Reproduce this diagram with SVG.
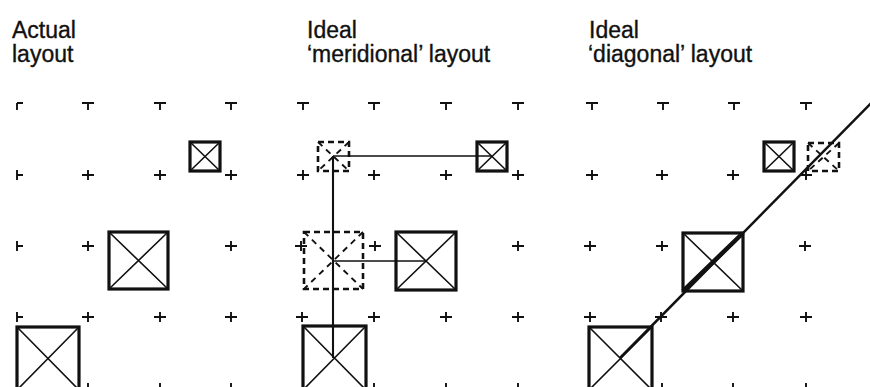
<svg xmlns="http://www.w3.org/2000/svg" xmlns:xlink="http://www.w3.org/1999/xlink" width="870" height="387" viewBox="0 0 870 387">
<style>
.t{font-family:"Liberation Sans",Arial,sans-serif;font-size:23px;fill:#111;stroke:#111;stroke-width:0.35}
.m{fill:none;stroke:#111;stroke-width:1.9}
.box{fill:#fff;stroke:#111;stroke-width:3.2}
.dia{stroke:#111;stroke-width:1.6;fill:none}
.dbox{fill:none;stroke:#111;stroke-width:2.6;stroke-dasharray:6 4}
.ddia{fill:none;stroke:#111;stroke-width:1.9;stroke-dasharray:6 5}
.con{stroke:#111;stroke-width:1.7;fill:none}
</style>
<defs>
<path id="p" class="m" d="M-6,0H6M0,-5V5"/>
<path id="tt" class="m" d="M-6,0H6M0,0V7"/>
<path id="sd" class="m" d="M0,-5V5M0,0H6"/>
<path id="cr" class="m" d="M0,0H6M0,0V7"/>
</defs>
<rect width="870" height="387" fill="#fff"/>
<g id="labels">
<text class="t" x="12" y="38">Actual</text>
<text class="t" x="12" y="62">layout</text>
<text class="t" x="307" y="38">Ideal</text>
<text class="t" x="307" y="62">‘meridional’ layout</text>
<text class="t" x="589" y="38">Ideal</text>
<text class="t" x="588" y="62">‘diagonal’ layout</text>
</g>
<g id="grid">
<use xlink:href="#cr" x="17" y="103"/>
<use xlink:href="#tt" x="88" y="103"/><use xlink:href="#tt" x="160" y="103"/><use xlink:href="#tt" x="231" y="103"/>
<use xlink:href="#sd" x="17" y="175"/><use xlink:href="#sd" x="17" y="246"/><use xlink:href="#sd" x="17" y="317"/>
<use xlink:href="#p" x="88" y="175"/><use xlink:href="#p" x="160" y="175"/><use xlink:href="#p" x="231" y="175"/>
<use xlink:href="#p" x="88" y="246"/><use xlink:href="#p" x="160" y="246"/><use xlink:href="#p" x="231" y="246"/>
<use xlink:href="#p" x="88" y="317"/><use xlink:href="#p" x="160" y="317"/><use xlink:href="#p" x="231" y="317"/>
<use xlink:href="#p" x="88" y="388"/><use xlink:href="#p" x="160" y="388"/><use xlink:href="#p" x="231" y="388"/>

<use xlink:href="#tt" x="303" y="103"/><use xlink:href="#tt" x="374" y="103"/><use xlink:href="#tt" x="446" y="103"/><use xlink:href="#tt" x="518" y="103"/>
<use xlink:href="#p" x="303" y="175"/><use xlink:href="#p" x="374" y="175"/><use xlink:href="#p" x="446" y="175"/><use xlink:href="#p" x="518" y="175"/>
<use xlink:href="#p" x="301" y="246"/><use xlink:href="#p" x="375" y="246"/><use xlink:href="#p" x="446" y="246"/><use xlink:href="#p" x="518" y="246"/>
<use xlink:href="#p" x="302" y="317"/><use xlink:href="#p" x="374" y="317"/><use xlink:href="#p" x="446" y="317"/><use xlink:href="#p" x="518" y="317"/>
<use xlink:href="#p" x="374" y="388"/><use xlink:href="#p" x="446" y="388"/><use xlink:href="#p" x="518" y="388"/>

<use xlink:href="#tt" x="592" y="103"/><use xlink:href="#tt" x="663" y="103"/><use xlink:href="#tt" x="734" y="103"/><use xlink:href="#tt" x="806" y="103"/>
<use xlink:href="#p" x="592" y="175"/><use xlink:href="#p" x="662" y="175"/><use xlink:href="#p" x="733" y="175"/><use xlink:href="#p" x="806" y="175"/><use xlink:href="#p" x="877" y="175"/>
<use xlink:href="#p" x="590" y="246"/><use xlink:href="#p" x="662" y="246"/><use xlink:href="#p" x="734" y="246"/><use xlink:href="#p" x="805" y="246"/><use xlink:href="#p" x="877" y="246"/>
<use xlink:href="#p" x="590" y="317"/><use xlink:href="#p" x="661" y="317"/><use xlink:href="#p" x="733" y="317"/><use xlink:href="#p" x="806" y="317"/><use xlink:href="#p" x="877" y="317"/>
<use xlink:href="#p" x="662" y="388"/><use xlink:href="#p" x="733" y="388"/><use xlink:href="#p" x="806" y="388"/>
</g>
<g id="p1-small"><rect class="box" x="190" y="142" width="30" height="29"/><path class="dia" d="M190,142L220,171M220,142L190,171"/></g>
<g id="p1-big"><rect class="box" x="109" y="232" width="59" height="57"/><path class="dia" d="M109,232L168,289M168,232L109,289"/></g>
<g id="p1-bottom"><rect class="box" x="17" y="327" width="62" height="63"/><path class="dia" d="M17,327L79,390M79,327L17,390"/></g>

<g id="p2-small-ghost"><rect class="dbox" x="318" y="142" width="31" height="29"/><path class="ddia" d="M318,142L349,171M349,142L318,171"/></g>
<g id="p2-small"><rect class="box" x="477" y="142" width="30" height="29"/><path class="dia" d="M477,142L507,171M507,142L477,171"/></g>
<g id="p2-big-ghost"><rect class="dbox" x="304" y="232" width="59" height="57"/><path class="ddia" d="M304,232L363,289M363,232L304,289"/></g>
<g id="p2-big"><rect class="box" x="396" y="232" width="60" height="58"/><path class="dia" d="M396,232L456,290M456,232L396,290"/></g>
<g id="p2-bottom"><rect class="box" x="303" y="326" width="63" height="64"/><path class="dia" d="M303,326L366,390M366,326L303,390"/></g>

<g id="p3-small"><rect class="box" x="764" y="142" width="30" height="29"/><path class="dia" d="M764,142L794,171M794,142L764,171"/></g>
<g id="p3-small-ghost"><rect class="dbox" x="808" y="143" width="31" height="28"/><path class="ddia" d="M808,143L839,171M839,143L808,171"/></g>
<g id="p3-big"><rect class="box" x="683" y="233" width="60" height="58"/><path class="dia" d="M683,233L743,291M743,233L683,291"/></g>
<g id="p3-bottom"><rect class="box" x="589" y="327" width="63" height="63"/><path class="dia" d="M589,327L652,390M652,327L589,390"/></g>

<g id="connectors">
<path class="con" d="M333,156H492"/>
<path class="con" style="stroke-width:2.1" d="M333,156V358"/>
<path class="con" d="M333,261H426"/>
<path class="con" style="stroke-width:2.5" d="M620,358L882,92"/>
<path class="con" style="stroke-width:4.5" d="M683,291L743,233"/>
</g>
</svg>
